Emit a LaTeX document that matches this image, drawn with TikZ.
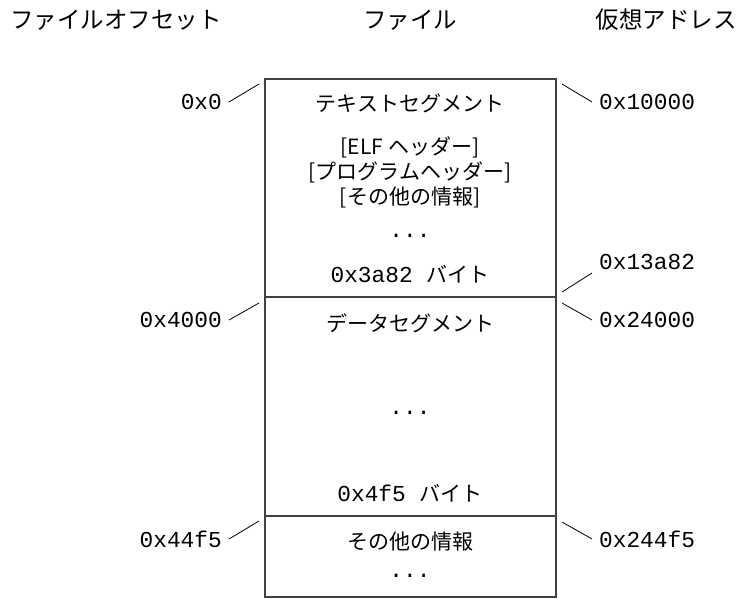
\documentclass[tikz,border=0pt]{standalone}
\usepackage{fontspec}
\setmainfont{Noto Sans CJK JP}
\newfontfamily\addrfont{Liberation Mono}
\newcommand{\addr}[1]{{\fontsize{22.8}{26}\addrfont #1}}

\begin{document}
\begin{tikzpicture}[x=1pt, y=-1pt]
		\tikzstyle{every node}=[inner sep=0pt, font=\fontsize{21}{25}\selectfont]
		\tikzstyle{heading}=[font=\fontsize{23.5}{28}\selectfont]
		\tikzstyle{offset}=[anchor=east, font=\fontsize{22.8}{26}\addrfont]
		\tikzstyle{vaddr}=[anchor=west, font=\fontsize{22.8}{26}\addrfont]
		\tikzstyle{tick}=[line width=.8pt]
		\tikzstyle{frame}=[line width=1.3pt, draw=black!75]
    \def\l{265} \def\r{556}

		\useasboundingbox (0,0) rectangle (739,598);

		% headings
		\node[heading] (hoff) at (116,20) {ファイルオフセット};
		\node[heading] (hfile) at (410,20) {ファイル};
		\node[heading] (hvirt) at (666,20) {仮想アドレス};

		% the file
		\draw[frame] (\l,79) rectangle (\r,597);
		\draw[frame] (\l,297) -- (\r,297);
		\draw[frame] (\l,516) -- (\r,516);

		\node (text) at (410,103) {テキストセグメント};
		\node[align=center] (hdrs) at (410,172) {{[ELF ヘッダー]}\\{[プログラムヘッダー]}\\{[その他の情報]}};
		\node (tdots) at (410,236) {\addr{...}};
		\node (tsize) at (410,274) {\addr{0x3a82\ }バイト};

		\node (data) at (410,323) {データセグメント};
		\node (ddots) at (410,413) {\addr{...}};
		\node (dsize) at (410,493) {\addr{0x4f5\ }バイト};

		\node (misc) at (410,542) {その他の情報};
		\node (mdots) at (410,576) {\addr{...}};

		% file offsets
		\node[offset] (o0) at (222,102) {0x0};
		\node[offset] (o1) at (222,320) {0x4000};
		\node[offset] (o2) at (222,539) {0x44f5};
		\coordinate (c0) at (259,84);
		\coordinate (c1) at (259,303);
		\coordinate (c2) at (259,521);
		\draw[tick] ([xshift=7pt]o0.east) -- (c0);
		\draw[tick] ([xshift=7pt]o1.east) -- (c1);
		\draw[tick] ([xshift=7pt]o2.east) -- (c2);

		% virtual addresses
		\node[vaddr] (v0) at (599,102) {0x10000};
		\node[vaddr] (v1) at (599,262) {0x13a82};
		\node[vaddr] (v2) at (599,320) {0x24000};
		\node[vaddr] (v3) at (599,539) {0x244f5};
		\coordinate (d0) at (562,84);
		\coordinate (d1) at (562,292);
		\coordinate (d2) at (562,303);
		\coordinate (d3) at (562,522);
		\draw[tick] (d0) -- ([xshift=-7pt]v0.west);
		\draw[tick] (d1) -- ([xshift=-7pt,yshift=-11pt]v1.west);
		\draw[tick] (d2) -- ([xshift=-7pt]v2.west);
		\draw[tick] (d3) -- ([xshift=-7pt]v3.west);
	\end{tikzpicture}
\end{document}
